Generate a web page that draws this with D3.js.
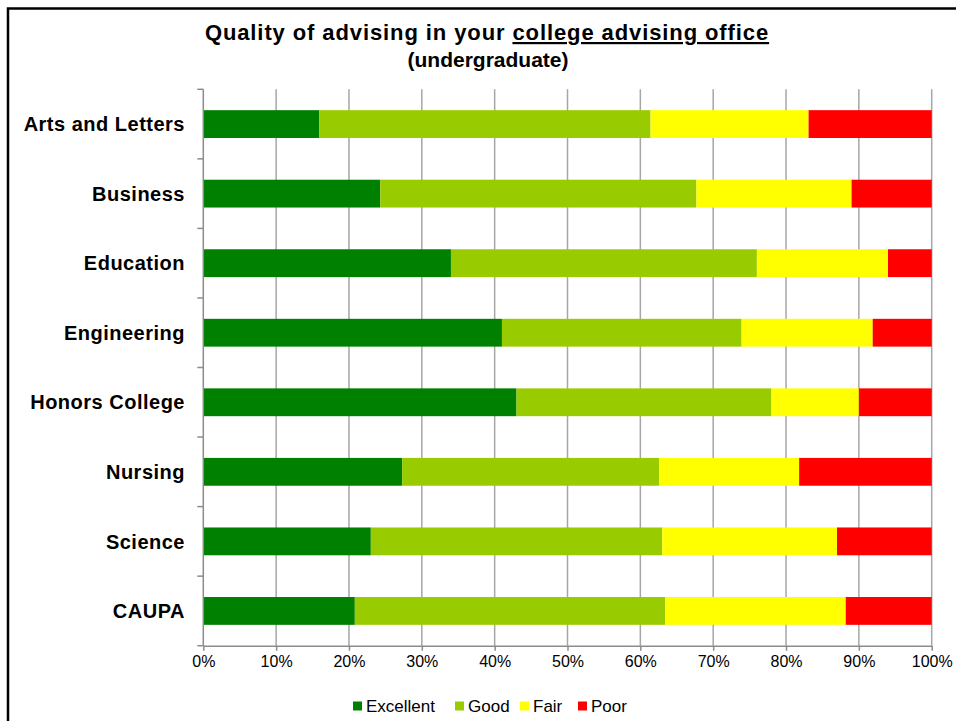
<!DOCTYPE html>
<html>
<head>
<meta charset="utf-8">
<script src="https://cdnjs.cloudflare.com/ajax/libs/d3/7.8.5/d3.min.js"></script>
<style>
  html, body { margin: 0; padding: 0; background: #fff; }
  svg { display: block; font-family: "Liberation Sans", Arial, sans-serif; }
</style>
</head>
<body>
<svg id="chart" width="956" height="721"></svg>
<script>
const categories = ["Arts and Letters", "Business", "Education", "Engineering", "Honors College", "Nursing", "Science", "CAUPA"];
const seriesNames = ["Excellent", "Good", "Fair", "Poor"];
const excellent = [15.9, 24.3, 34.0, 41.0, 43.0, 27.3, 23.0, 20.8];
const good      = [45.5, 43.4, 42.0, 32.9, 35.0, 35.3, 40.0, 42.6];
const fair      = [21.7, 21.3, 18.0, 18.0, 12.0, 19.2, 24.0, 24.8];
const poor      = [16.9, 11.0,  6.0,  8.1, 10.0, 18.2, 13.0, 11.8];
const xTicks = [0, 10, 20, 30, 40, 50, 60, 70, 80, 90, 100];
const colors = ["#008000", "#99cc00", "#ffff00", "#ff0000"];

const rows = categories.map((c, i) => ({
  cat: c, Excellent: excellent[i], Good: good[i], Fair: fair[i], Poor: poor[i]
}));

const svg = d3.select("#chart");
const W = 956, H = 721;
const m = { left: 203.3, right: W - 931.7, top: 89.3, bottom: H - 645.7 };

// frame
svg.append("rect").attr("x", 8).attr("y", 8.5).attr("width", 1000).attr("height", 1000)
  .attr("fill", "none").attr("stroke", "#000").attr("stroke-width", 2.5);

const x = d3.scaleLinear().domain([0, 100]).range([m.left, W - m.right]);
const y = d3.scaleBand().domain(categories).range([m.top, H - m.bottom])
  .paddingInner(0.6).paddingOuter(0.3);

// gridlines
svg.append("g").selectAll("line").data(xTicks.slice(1)).join("line")
  .attr("x1", d => x(d)).attr("x2", d => x(d))
  .attr("y1", m.top).attr("y2", H - m.bottom)
  .attr("stroke", "#a6a6a6").attr("stroke-width", 1.5);

// bars
const stack = d3.stack().keys(seriesNames)(rows);
const color = d3.scaleOrdinal().domain(seriesNames).range(colors);
svg.append("g").selectAll("g").data(stack).join("g")
  .attr("fill", d => color(d.key))
  .selectAll("rect").data(d => d).join("rect")
  .attr("x", d => x(d[0]))
  .attr("width", d => x(d[1]) - x(d[0]))
  .attr("y", d => y(d.data.cat))
  .attr("height", y.bandwidth());

// x axis
const xAxis = svg.append("g").attr("transform", `translate(0,${H - m.bottom})`)
  .call(d3.axisBottom(x).tickValues(xTicks).tickFormat(d => d + "%").tickSize(5).tickSizeOuter(0));
xAxis.select(".domain").attr("stroke", "#8c8c8c").attr("stroke-width", 1.5);
xAxis.selectAll(".tick line").attr("stroke", "#8c8c8c").attr("stroke-width", 1.5);
xAxis.selectAll("text").attr("font-size", 16).attr("fill", "#000")
  .attr("font-family", "Liberation Sans, Arial, sans-serif").attr("dy", "0.85em");

// y axis line and boundary ticks
const bounds = d3.range(categories.length + 1).map(i => m.top + i * y.step());
svg.append("line").attr("x1", m.left).attr("x2", m.left)
  .attr("y1", m.top).attr("y2", H - m.bottom)
  .attr("stroke", "#8c8c8c").attr("stroke-width", 1.5);
svg.append("g").selectAll("line").data(bounds).join("line")
  .attr("x1", m.left - 6).attr("x2", m.left)
  .attr("y1", d => d).attr("y2", d => d)
  .attr("stroke", "#8c8c8c").attr("stroke-width", 1.5);

// category labels
svg.append("g").selectAll("text").data(categories).join("text")
  .attr("x", 185).attr("y", d => y(d) + y.bandwidth() / 2)
  .attr("dy", "0.36em").attr("text-anchor", "end")
  .attr("font-size", 20).attr("letter-spacing", 0.5).attr("font-weight", "bold").attr("fill", "#000")
  .text(d => d);

// title
const t = svg.append("text").attr("x", 487).attr("y", 40).attr("text-anchor", "middle")
  .attr("font-size", 22).attr("letter-spacing", 0.9).attr("font-weight", "bold").attr("fill", "#000");
t.append("tspan").text("Quality of advising in your ");
t.append("tspan").attr("text-decoration", "underline").text("college advising office");
svg.append("text").attr("x", 488).attr("y", 67).attr("text-anchor", "middle")
  .attr("font-size", 21).attr("font-weight", "bold").attr("fill", "#000")
  .text("(undergraduate)");

// legend
const legendX = [353, 455, 520, 578];
const lg = svg.append("g").selectAll("g").data(seriesNames).join("g")
  .attr("transform", (d, i) => `translate(${legendX[i]},706)`);
lg.append("rect").attr("x", 0).attr("y", -4.5).attr("width", 9).attr("height", 9)
  .attr("fill", d => color(d));
lg.append("text").attr("x", 13).attr("y", 0).attr("dy", "0.36em")
  .attr("font-size", 17).attr("fill", "#000").text(d => d);
</script>
</body>
</html>
